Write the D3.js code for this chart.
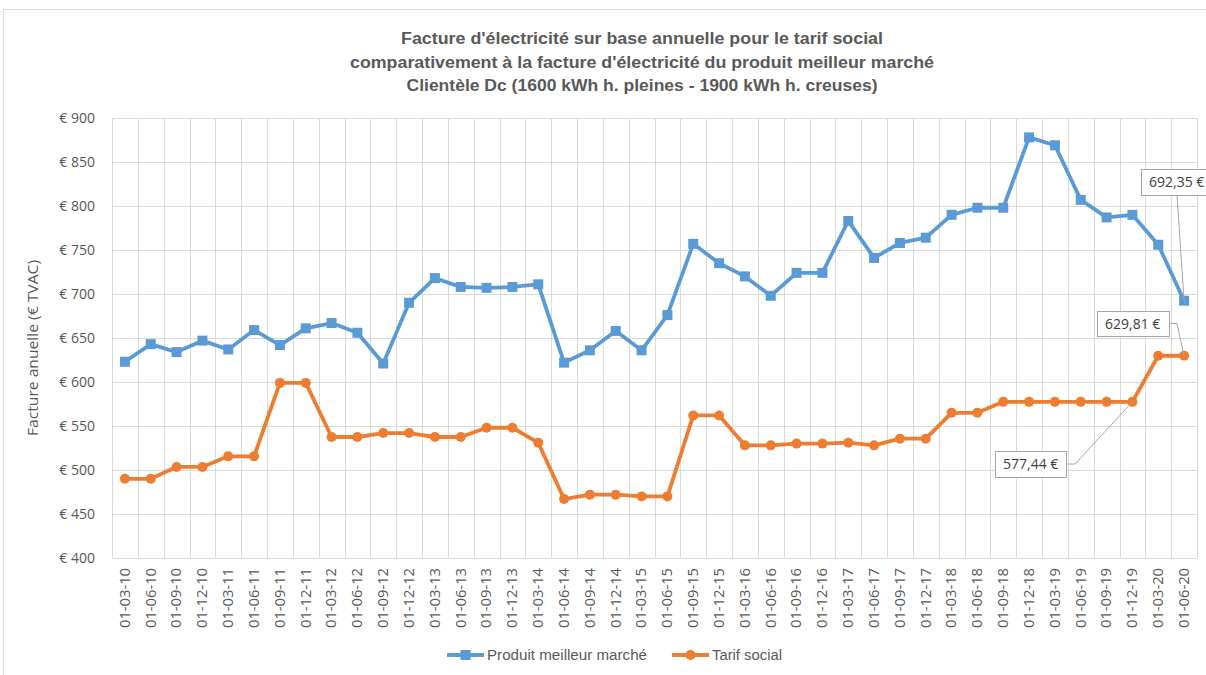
<!DOCTYPE html>
<html>
<head>
  <meta charset="UTF-8">
  <style>
    body { margin: 0; background: #fff; }
    svg { display: block; }
    .grid line { stroke: #d9d9d9; stroke-width: 1px; }
    .tick-y { font: 14px "Open Sans", sans-serif; fill: #595959; }
    .tick-x { font: 14px "Open Sans", sans-serif; fill: #595959; }
    .title { font: bold 16px "Liberation Sans Narrow", "Liberation Sans", sans-serif; fill: #595959; }
    .legend text { font: 14px "Liberation Sans Narrow", "Liberation Sans", sans-serif; fill: #595959; }
    .lbl text { font: 14px "Open Sans", sans-serif; fill: #404040; }
    .lbl rect { fill: #fff; stroke: #a6a6a6; stroke-width: 1px; }
    .leader { fill: none; stroke: #a6a6a6; stroke-width: 1px; }
  </style>
</head>
<body>
  <svg width="1206" height="675"></svg>
  <script src="https://d3js.org/d3.v7.min.js"></script>
  <script>
    // données : trimestres de 2010 à 2020
    const dates = [
      '01-03-10', '01-06-10', '01-09-10', '01-12-10',
      '01-03-11', '01-06-11', '01-09-11', '01-12-11',
      '01-03-12', '01-06-12', '01-09-12', '01-12-12',
      '01-03-13', '01-06-13', '01-09-13', '01-12-13',
      '01-03-14', '01-06-14', '01-09-14', '01-12-14',
      '01-03-15', '01-06-15', '01-09-15', '01-12-15',
      '01-03-16', '01-06-16', '01-09-16', '01-12-16',
      '01-03-17', '01-06-17', '01-09-17', '01-12-17',
      '01-03-18', '01-06-18', '01-09-18', '01-12-18',
      '01-03-19', '01-06-19', '01-09-19', '01-12-19',
      '01-03-20', '01-06-20'
    ];
    const meilleurMarche = [
      623, 643, 634, 647, 637, 659, 642, 661, 667, 656, 621, 690,
      718, 708, 707, 708, 711, 622, 636, 658, 636, 676,
      757, 735, 720, 698, 724, 724,
      783, 741, 758, 764, 790, 798, 798, 878, 869, 807, 787, 790, 756, 692.35
    ];
    const tarifSocial = [
      490, 490, 503.5, 503.5, 515.5, 515.5, 599, 599, 537.5, 537.5, 542, 542,
      537.5, 537.5, 548, 548, 531, 467, 472, 472, 470, 470,
      562, 562, 528, 528, 530, 530,
      531, 528, 535.6, 535.6, 565, 565, 577.44, 577.44, 577.44, 577.44, 577.44, 577.44, 629.81, 629.81
    ];
    const yTicks = [400, 450, 500, 550, 600, 650, 700, 750, 800, 850, 900];
    const titleLines = [
      "Facture d'électricité sur base annuelle pour le tarif social",
      "comparativement  à la facture d'électricité du produit meilleur marché",
      "Clientèle Dc (1600 kWh h. pleines - 1900  kWh h. creuses)"
    ];
    const series = [
      { name: 'Produit meilleur marché', values: meilleurMarche, color: '#5b9bd5', marker: 'square' },
      { name: 'Tarif social', values: tarifSocial, color: '#ed7d31', marker: 'circle' }
    ];
    // étiquettes de données : série, index, texte
    const dataLabels = [
      { s: 0, i: 41, text: '692,35 €' },
      { s: 1, i: 41, text: '629,81 €' },
      { s: 1, i: 39, text: '577,44 €' }
    ];

    const svg = d3.select('svg');
    const plot = { left: 112, right: 1197, top: 118, bottom: 558 };

    // cadre du graphique
    svg.append('rect')
      .attr('x', 3.5).attr('y', 9.5).attr('width', 1210).attr('height', 680)
      .attr('fill', '#fff').attr('stroke', '#d9d9d9');

    const x = d3.scaleBand().domain(dates).range([plot.left, plot.right]);
    const y = d3.scaleLinear().domain([400, 900]).range([plot.bottom, plot.top]);
    const cx = d => x(d) + x.bandwidth() / 2;

    // grille
    const grid = svg.append('g').attr('class', 'grid');
    grid.selectAll('.h').data(yTicks).enter().append('line')
      .attr('x1', plot.left).attr('x2', plot.right)
      .attr('y1', d => Math.round(y(d)) + 0.5).attr('y2', d => Math.round(y(d)) + 0.5);
    const vlines = dates.map(d => x(d)).concat([plot.right]);
    grid.selectAll('.v').data(vlines).enter().append('line')
      .attr('x1', d => Math.round(d) + 0.5).attr('x2', d => Math.round(d) + 0.5)
      .attr('y1', plot.top).attr('y2', plot.bottom);

    // axe Y
    svg.append('g').selectAll('text').data(yTicks).enter().append('text')
      .attr('class', 'tick-y')
      .attr('x', 95).attr('y', d => y(d)).attr('dy', '0.35em')
      .attr('text-anchor', 'end')
      .text(d => '€ ' + d);

    svg.append('text')
      .attr('transform', `translate(38,${(259 + 437) / 2}) rotate(-90)`)
      .attr('text-anchor', 'middle')
      .attr('textLength', 176).attr('lengthAdjust', 'spacingAndGlyphs')
      .style('font', '14.5px "Open Sans", sans-serif').style('fill', '#595959')
      .text('Facture anuelle (€ TVAC)');

    // axe X
    svg.append('g').selectAll('text').data(dates).enter().append('text')
      .attr('class', 'tick-x')
      .attr('transform', d => `translate(${cx(d)},568) rotate(-90)`)
      .attr('text-anchor', 'end').attr('dy', '0.35em')
      .attr('textLength', 60).attr('lengthAdjust', 'spacingAndGlyphs')
      .text(d => d);

    // séries
    const line = d3.line().x((v, i) => cx(dates[i])).y(v => y(v));
    series.forEach(s => {
      const g = svg.append('g');
      g.append('path').datum(s.values)
        .attr('d', line).attr('fill', 'none')
        .attr('stroke', s.color).attr('stroke-width', 3.8)
        .attr('stroke-linejoin', 'round');
      if (s.marker === 'square') {
        g.selectAll('rect').data(s.values).enter().append('rect')
          .attr('x', (v, i) => cx(dates[i]) - 5).attr('y', v => y(v) - 5)
          .attr('width', 10).attr('height', 10).attr('fill', s.color);
      } else {
        g.selectAll('circle').data(s.values).enter().append('circle')
          .attr('cx', (v, i) => cx(dates[i])).attr('cy', v => y(v))
          .attr('r', 5).attr('fill', s.color);
      }
    });

    // étiquettes de données avec lignes de rappel
    const labelBoxes = [
      { x: 1141, y: 169, w: 72, h: 26, leader: b => [[1177, b.y + b.h]] },
      { x: 1097, y: 311, w: 72, h: 25, leader: b => [[b.x + b.w, b.y + b.h / 2], [1177, b.y + b.h / 2]] },
      { x: 995, y: 451, w: 71, h: 26, leader: b => [[b.x + b.w, b.y + b.h / 2], [1075, b.y + b.h / 2]] }
    ];
    dataLabels.forEach((d, k) => {
      const b = labelBoxes[k];
      const px = cx(dates[d.i]), py = y(series[d.s].values[d.i]);
      svg.append('path').attr('class', 'leader')
        .attr('d', d3.line()(b.leader(b).concat([[px, py]])));
      const g = svg.append('g').attr('class', 'lbl');
      g.append('rect').attr('x', b.x + 0.5).attr('y', b.y + 0.5).attr('width', b.w).attr('height', b.h);
      g.append('text').attr('x', b.x + 8).attr('y', b.y + b.h / 2).attr('dy', '0.36em').text(d.text);
    });

    // titre
    const titleWidths = [482, 584, 471];
    svg.append('g').selectAll('text').data(titleLines).enter().append('text')
      .attr('class', 'title')
      .attr('x', 642).attr('y', (d, i) => 44 + i * 23.5)
      .attr('text-anchor', 'middle')
      .attr('textLength', (d, i) => titleWidths[i])
      .attr('lengthAdjust', 'spacingAndGlyphs')
      .text(d => d);

    // légende
    const legendPos = [{ x: 447, w: 160 }, { x: 672, w: 70 }];
    const legend = svg.append('g').attr('class', 'legend');
    series.forEach((s, k) => {
      const lx = legendPos[k].x, ly = 655;
      legend.append('line').attr('x1', lx).attr('x2', lx + 37).attr('y1', ly).attr('y2', ly)
        .attr('stroke', s.color).attr('stroke-width', 3.8);
      if (s.marker === 'square') {
        legend.append('rect').attr('x', lx + 13.5).attr('y', ly - 5).attr('width', 10).attr('height', 10).attr('fill', s.color);
      } else {
        legend.append('circle').attr('cx', lx + 18.5).attr('cy', ly).attr('r', 5).attr('fill', s.color);
      }
      legend.append('text').attr('x', lx + 40).attr('y', ly).attr('dy', '0.35em')
        .attr('textLength', legendPos[k].w).attr('lengthAdjust', 'spacingAndGlyphs')
        .text(s.name);
    });
  </script>
</body>
</html>
